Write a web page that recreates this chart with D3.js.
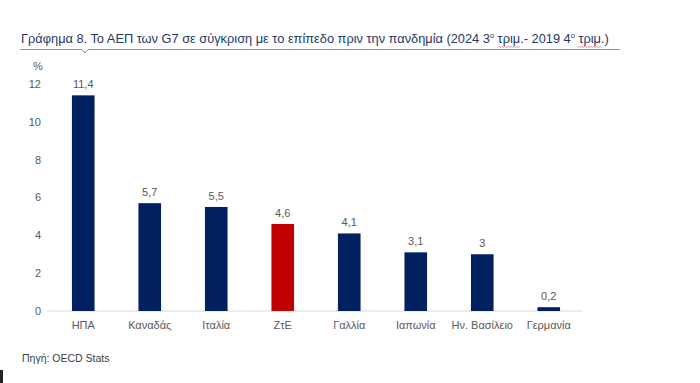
<!DOCTYPE html>
<html>
<head>
<meta charset="utf-8">
<script src="https://cdn.jsdelivr.net/npm/d3@7"></script>
<style>
	body { margin: 0; background: #fff; }
	svg text { font-family: "Liberation Sans", Arial, sans-serif; }
</style>
</head>
<body>
<div id="chart"></div>
<script>
var countries = ['ΗΠΑ', 'Καναδάς', 'Ιταλία', 'ΖτΕ', 'Γαλλία', 'Ιαπωνία', 'Ην. Βασίλειο', 'Γερμανία'];
var gdpChange = [11.4, 5.7, 5.5, 4.6, 4.1, 3.1, 3, 0.2];
var valueLabels = ['11,4', '5,7', '5,5', '4,6', '4,1', '3,1', '3', '0,2'];
var yTicks = [0, 2, 4, 6, 8, 10, 12];
var highlight = 'ΖτΕ';

var width = 700, height = 383;
var margin = {top: 84, right: 118, bottom: 72, left: 50};
var W = width - margin.left - margin.right;
var H = height - margin.top - margin.bottom;

var svg = d3.select('#chart').append('svg')
	.attr('width', width).attr('height', height);

// title
var title = svg.append('text')
	.attr('x', 21).attr('y', 43)
	.attr('font-size', 12.8)
	.attr('fill', '#1f3864');
title.append('tspan').text('Γράφημα 8. Το ΑΕΠ των G7 σε σύγκριση με το επίπεδο πριν την πανδημία (2024 3');
title.append('tspan').attr('font-size', 7.5).attr('dy', -5).text('ο');
title.append('tspan').attr('dy', 5).text(' ');
var trim1 = title.append('tspan').text('τριμ.');
title.append('tspan').text('- 2019 4');
title.append('tspan').attr('font-size', 7.5).attr('dy', -5).text('ο');
title.append('tspan').attr('dy', 5).text(' ');
var trim2 = title.append('tspan').text('τριμ.');
title.append('tspan').text(')');

svg.append('path')
	.attr('d', 'M20,49.5 L82,49.5 L85,53 L88,49.5 L620,49.5')
	.attr('fill', 'none')
	.attr('stroke', '#8497b0')
	.attr('stroke-width', 1);

// spelling squiggles under "τριμ."
[trim1, trim2].forEach(function(t){
	var b = t.node().getBBox();
	var x0 = Math.round(b.x), x1 = Math.round(b.x + b.width - 3);
	var p = 'M' + x0 + ',47.5';
	var k = 0;
	for(var x = x0 + 1; x <= x1; x += 1.5){
		p += ' L' + x + ',' + (k++ % 2 ? 47.5 : 46.3);
	}
	svg.append('path').attr('d', p)
		.attr('fill', 'none').attr('stroke', '#e06060').attr('stroke-width', 0.7);
});

var g = svg.append('g')
	.attr('transform', 'translate(' + [margin.left, margin.top] + ')');

var x = d3.scaleBand()
	.domain(countries)
	.range([0, W])
	.paddingInner(0.66)
	.paddingOuter(0.33);

var y = d3.scaleLinear()
	.domain([0, 12])
	.range([H, 0]);

var data = countries.map(function(c, i){
	return {name: c, value: gdpChange[i], label: valueLabels[i]};
});

// y axis labels
g.selectAll('.ytick')
	.data(yTicks)
	.enter().append('text')
	.attr('class', 'ytick')
	.attr('x', -9)
	.attr('y', function(d){ return y(d); })
	.attr('dy', '0.35em')
	.attr('text-anchor', 'end')
	.attr('font-size', 11)
	.attr('fill', '#595959')
	.text(function(d){ return d; });

g.append('text')
	.attr('x', -12).attr('y', -18)
	.attr('dy', '0.35em')
	.attr('text-anchor', 'middle')
	.attr('font-size', 11)
	.attr('fill', '#595959')
	.text('%');

// baseline
g.append('line')
	.attr('x1', -3).attr('x2', W)
	.attr('y1', y(0)).attr('y2', y(0))
	.attr('stroke', '#d9d9d9')
	.attr('stroke-width', 1);

g.selectAll('.bar')
	.data(data)
	.enter().append('rect')
	.attr('class', 'bar')
	.attr('x', function(d){ return x(d.name); })
	.attr('y', function(d){ return y(d.value); })
	.attr('width', x.bandwidth())
	.attr('height', function(d){ return y(0) - y(d.value); })
	.attr('fill', function(d){ return d.name == highlight ? '#c00000' : '#002060'; });

g.selectAll('.vlabel')
	.data(data)
	.enter().append('text')
	.attr('class', 'vlabel')
	.attr('x', function(d){ return x(d.name) + x.bandwidth() / 2; })
	.attr('y', function(d){ return y(d.value) - 7; })
	.attr('text-anchor', 'middle')
	.attr('font-size', 11)
	.attr('fill', '#595959')
	.text(function(d){ return d.label; });

// category labels
g.selectAll('.xlabel')
	.data(countries)
	.enter().append('text')
	.attr('class', 'xlabel')
	.attr('x', function(d){ return x(d) + x.bandwidth() / 2; })
	.attr('y', y(0) + 18)
	.attr('text-anchor', 'middle')
	.attr('font-size', 11)
	.attr('fill', '#595959')
	.text(function(d){ return d; });

// source
svg.append('text')
	.attr('x', 22).attr('y', 362)
	.attr('font-size', 10.5)
	.attr('fill', '#404040')
	.text('Πηγή: OECD Stats');

svg.append('rect')
	.attr('x', 0).attr('y', 370)
	.attr('width', 3).attr('height', 13)
	.attr('fill', '#222');
</script>
</body>
</html>
